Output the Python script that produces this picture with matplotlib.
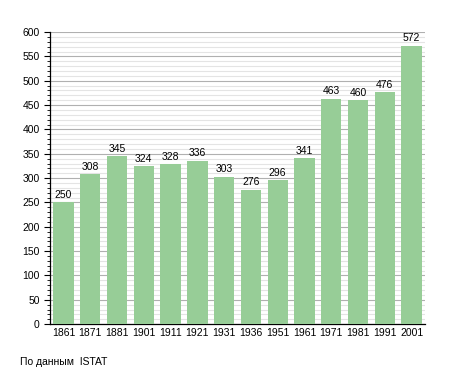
import matplotlib.pyplot as plt
from matplotlib.ticker import MultipleLocator

plt.rcParams['font.family'] = ['Liberation Sans', 'DejaVu Sans']

years = ['1861', '1871', '1881', '1901', '1911', '1921', '1931',
         '1936', '1951', '1961', '1971', '1981', '1991', '2001']
population = [250, 308, 345, 324, 328, 336, 303, 276, 296, 341, 463, 460, 476, 572]

fig = plt.figure(figsize=(4.55, 3.73), dpi=100)
ax = fig.add_axes([0.11, 0.131, 0.824, 0.783])

x = range(len(years))
ax.bar(x, population, width=0.76, color='#97cd97', zorder=3)
for i, v in zip(x, population):
    ax.text(i, v + 5, str(v), ha='center', va='bottom', fontsize=7.5, zorder=4)

ax.set_xlim(-0.5, len(years) - 0.5)
ax.set_ylim(0, 600)
ax.yaxis.set_major_locator(MultipleLocator(50))
ax.yaxis.set_minor_locator(MultipleLocator(10))
ax.grid(axis='y', which='major', color='#b0b0b0', linewidth=0.8, zorder=0)
ax.grid(axis='y', which='minor', color='#e4e4e4', linewidth=0.8, zorder=0)

ax.set_xticks(list(x))
ax.set_xticklabels(years)
ax.tick_params(axis='x', length=0, labelsize=7.5, pad=3)
ax.tick_params(axis='y', which='major', length=4, labelsize=7.5, width=0.8)
ax.tick_params(axis='y', which='minor', length=2, width=0.6)

for s in ['top', 'right']:
    ax.spines[s].set_visible(False)
ax.spines['left'].set_linewidth(0.9)
ax.spines['bottom'].set_linewidth(0.9)

fig.text(20 / 455, 1 - 362 / 373, 'По данным  ISTAT', fontsize=7.5, va='center')

fig.savefig('out.png', dpi=100)
